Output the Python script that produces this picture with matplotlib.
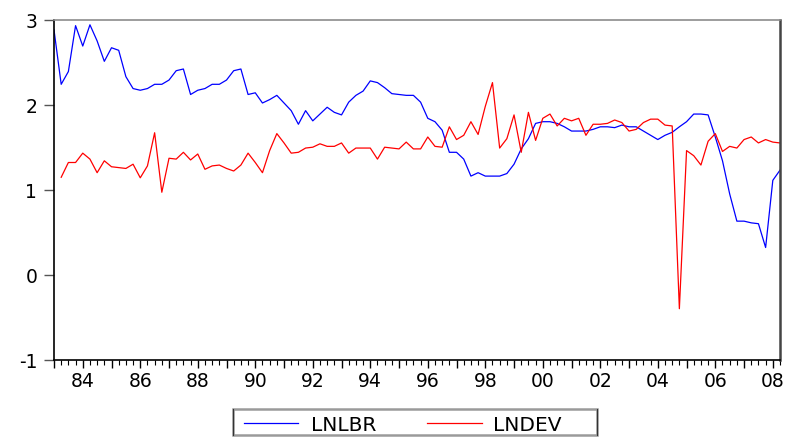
import matplotlib
matplotlib.use("Agg")
import matplotlib.pyplot as plt
import numpy as np
from matplotlib.lines import Line2D
from matplotlib.patches import Rectangle
from matplotlib.ticker import FixedLocator, MultipleLocator


START_YEAR = 1983  # first quarter 1983Q1, quarterly observations

LNLBR = [
    2.88, 2.24, 2.39, 2.93, 2.69, 2.94, 2.75, 2.51, 2.67, 2.64,
    2.33, 2.19, 2.17, 2.19, 2.24, 2.24, 2.29, 2.40, 2.42, 2.12,
    2.17, 2.19, 2.24, 2.24, 2.29, 2.40, 2.42, 2.12, 2.14, 2.02,
    2.06, 2.11, 2.02, 1.93, 1.77, 1.93, 1.81, 1.89, 1.97, 1.91,
    1.88, 2.03, 2.11, 2.16, 2.28, 2.26, 2.20, 2.13, 2.12, 2.11,
    2.11, 2.03, 1.84, 1.80, 1.70, 1.44, 1.44, 1.36, 1.16, 1.20,
    1.16, 1.16, 1.16, 1.19, 1.30, 1.48, 1.60, 1.78, 1.80, 1.80,
    1.78, 1.74, 1.69, 1.69, 1.69, 1.71, 1.74, 1.74, 1.73, 1.76,
    1.74, 1.74, 1.69, 1.64, 1.59, 1.64, 1.675, 1.74, 1.80, 1.89,
    1.89, 1.88, 1.62, 1.34, 0.95, 0.63, 0.63, 0.61, 0.60, 0.32,
    1.11, 1.23,
]

LNDEV = [
    np.nan, 1.146, 1.32, 1.32, 1.43, 1.36, 1.20, 1.34, 1.27, 1.26,
    1.25, 1.30, 1.14, 1.28, 1.67, 0.97, 1.37, 1.36, 1.44, 1.35,
    1.42, 1.24, 1.28, 1.29, 1.25, 1.22, 1.29, 1.43, 1.32, 1.20,
    1.46, 1.66, 1.55, 1.43, 1.44, 1.49, 1.50, 1.54, 1.51, 1.51,
    1.55, 1.43, 1.49, 1.49, 1.49, 1.36, 1.50, 1.49, 1.48, 1.56,
    1.48, 1.48, 1.62, 1.51, 1.50, 1.74, 1.59, 1.64, 1.80, 1.65,
    1.98, 2.26, 1.49, 1.60, 1.88, 1.44, 1.91, 1.58, 1.84, 1.89,
    1.75, 1.84, 1.81, 1.84, 1.64, 1.77, 1.77, 1.78, 1.82, 1.79,
    1.69, 1.71, 1.79, 1.83, 1.83, 1.76, 1.75, -0.40, 1.46, 1.40,
    1.29, 1.57, 1.66, 1.45, 1.51, 1.49, 1.59, 1.62, 1.55, 1.59,
    1.56, 1.55,
]

SERIES_NAMES = ["LNLBR", "LNDEV"]
SERIES_COLORS = ["#0000ff", "#ff0000"]
LABEL_YEARS = list(range(1984, 2009, 2))
Y_TICKS = [-1, 0, 1, 2, 3]

W, H = 792, 439


def fx(px):
    return px / W


def fy(py):
    return 1 - py / H


def main():
    plt.rcParams["font.family"] = ["DejaVu Sans"]
    n = len(LNLBR)
    x = START_YEAR + np.arange(n) / 4.0

    fig = plt.figure(figsize=(W / 100, H / 100), dpi=100)
    ax = fig.add_axes([fx(54), fy(360.7), 726 / W, 340 / H])

    for vals, name, c in zip([LNLBR, LNDEV], SERIES_NAMES, SERIES_COLORS):
        ax.plot(x, vals, color=c, linewidth=0.9, label=name)

    ax.set_xlim(START_YEAR, x[-1])
    ax.set_ylim(-1, 3)

    years = list(range(START_YEAR, int(x[-1]) + 1))
    ax.xaxis.set_major_locator(FixedLocator(years))
    ax.set_xticklabels([f"{y % 100:02d}" if y in LABEL_YEARS else "" for y in years])
    ax.xaxis.set_minor_locator(MultipleLocator(0.25))
    ax.tick_params(axis="x", which="major", direction="out", length=6, width=1,
                   labelsize=13.5, pad=2)
    ax.tick_params(axis="x", which="minor", direction="out", length=3.5, width=0.8)

    ax.set_yticks(Y_TICKS)
    ax.set_yticklabels([str(v) for v in Y_TICKS])
    ax.tick_params(axis="y", direction="out", length=7, width=1, labelsize=13.5,
                   pad=5, color="#555555")

    for side in ("left", "bottom"):
        ax.spines[side].set_color("black")
        ax.spines[side].set_linewidth(1.2)
    ax.spines["top"].set_color("#8c8c8c")
    ax.spines["top"].set_linewidth(1.2)
    ax.spines["right"].set_color("#444444")
    ax.spines["right"].set_linewidth(1.8)

    # legend box drawn by hand so its spacing follows the wide original
    box = Rectangle((fx(232.7), fy(435.7)), (596.7 - 232.7) / W, 26 / H,
                    transform=fig.transFigure, facecolor="white",
                    edgecolor="#9a9a9a", linewidth=1.8)
    fig.add_artist(box)
    for px in (232.7, 596.7):
        fig.add_artist(Line2D([fx(px), fx(px)], [fy(435.7), fy(409.7)],
                              transform=fig.transFigure, color="#333333",
                              linewidth=0.8))
    line_x = [(244, 298), (427.3, 481.7)]
    text_x = [310.7, 493]
    for (x0, x1), tx, name, c in zip(line_x, text_x, SERIES_NAMES, SERIES_COLORS):
        fig.add_artist(Line2D([fx(x0), fx(x1)], [fy(424.3), fy(424.3)],
                              transform=fig.transFigure, color=c, linewidth=0.9))
        fig.text(fx(tx), fy(431), name, fontsize=14.5, ha="left", va="baseline")

    fig.savefig("out.png", dpi=100)


if __name__ == "__main__":
    main()
